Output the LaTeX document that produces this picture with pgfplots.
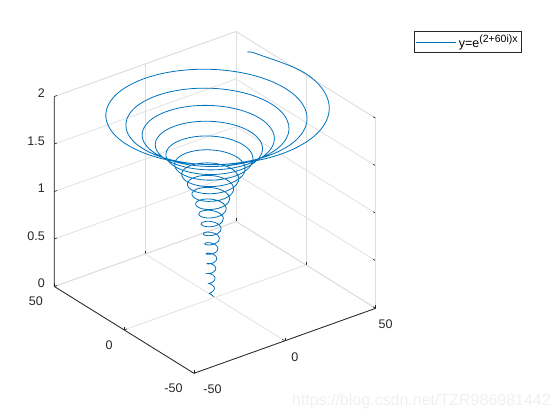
\documentclass[border=0pt]{standalone}
\usepackage{fontspec}
\setmainfont{Liberation Sans}
\usepackage{pgfplots}
\pgfplotsset{compat=1.18}
\definecolor{mblue}{HTML}{0072BD}
\definecolor{axdark}{HTML}{262626}
\definecolor{gridc}{HTML}{DEDEDE}
\begin{document}
\begin{tikzpicture}[x=1pt,y=1pt]
\useasboundingbox (0,0) rectangle (560,420);
\begin{axis}[
    at={(215pt,122.6pt)}, anchor=origin,
    x={(1.817pt,0.65pt)}, y={(-1.397pt,0.868pt)}, z={(0pt,95pt)},
    xmin=-50, xmax=50, ymin=-50, ymax=50, zmin=0, zmax=2,
    xtick={-50,0,50}, ytick={-50,0,50}, ztick={0,0.5,1,1.5,2},
    xticklabels={\hspace*{17pt}-50,0,50},
    yticklabels={-50,0,50},
    zticklabels={0,0.5,1,1.5,2},
    tick label style={font=\fontsize{12.5}{15}\selectfont, text=axdark},
    xticklabel style={anchor=center, xshift=10pt, yshift=-16pt},
    yticklabel style={anchor=east, xshift=-8pt, yshift=-15pt},
    zticklabel style={anchor=east, xshift=-6pt, yshift=3pt},
    grid=major, grid style={gridc, line width=0.7pt},
    axis line style={gridc, line width=0.7pt},
    tick style={axdark, line width=0.6pt},
    major tick length=3pt,
    tick pos=left,
    clip=false,
    legend style={at={(axis description cs:1.12,1)}, anchor=north west,
        draw=axdark, line width=0.6pt, font=\fontsize{12.5}{14}\selectfont,
        inner sep=1.5pt},
    legend image code/.code={\draw[#1] (0pt,0pt)--(40pt,0pt);},
]
\addplot3[mblue, line width=0.8pt, smooth, tension=0.63, xshift=-3.3pt] table[x=x,y=y,z=z] {
x y z
0.98 0 0
0.864 0.499 0.0087
0.507 0.879 0.0175
0 1.033 0.0262
-0.525 0.910 0.0349
-0.926 0.535 0.0436
-1.088 0 0.0524
-0.959 -0.554 0.0611
-0.563 -0.976 0.0698
0 -1.147 0.0785
0.583 -1.011 0.0873
1.028 -0.594 0.0960
1.208 0 0.1047
1.065 0.615 0.1134
0.626 1.084 0.1222
0 1.273 0.1309
-0.648 1.122 0.1396
-1.142 0.659 0.1484
-1.342 0 0.1571
-1.182 -0.683 0.1658
-0.695 -1.203 0.1745
0 -1.414 0.1833
0.719 -1.246 0.1920
1.268 -0.732 0.2007
1.49 0 0.2094
1.313 0.758 0.2182
0.771 1.336 0.2269
0 1.570 0.2356
-0.799 1.384 0.2443
-1.408 0.813 0.2531
-1.654 0 0.2618
-1.458 -0.842 0.2705
-0.857 -1.484 0.2793
0 -1.743 0.2880
0.887 -1.536 0.2967
1.563 -0.903 0.3054
1.837 0 0.3142
1.619 0.935 0.3229
0.951 1.647 0.3316
0 1.936 0.3403
-0.985 1.706 0.3491
-1.736 1.002 0.3578
-2.04 0 0.3665
-1.798 -1.038 0.3752
-1.056 -1.829 0.3840
0 -2.149 0.3927
1.094 -1.894 0.4014
1.928 -1.113 0.4102
2.265 0 0.4189
1.996 1.152 0.4276
1.173 2.031 0.4363
0 2.387 0.4451
-1.214 2.103 0.4538
-2.140 1.236 0.4625
-2.515 0 0.4712
-2.216 -1.280 0.4800
-1.302 -2.255 0.4887
0 -2.650 0.4974
1.348 -2.336 0.5061
2.377 -1.372 0.5149
2.792 0 0.5236
2.461 1.421 0.5323
1.446 2.504 0.5411
0 2.943 0.5498
-1.497 2.593 0.5585
-2.639 1.524 0.5672
-3.101 0 0.5760
-2.733 -1.578 0.5847
-1.606 -2.781 0.5934
0 -3.267 0.6021
1.663 -2.880 0.6109
2.930 -1.692 0.6196
3.443 0 0.6283
3.034 1.752 0.6370
1.783 3.087 0.6458
0 3.628 0.6545
-1.846 3.197 0.6632
-3.254 1.879 0.6720
-3.823 0 0.6807
-3.369 -1.945 0.6894
-1.980 -3.429 0.6981
0 -4.029 0.7069
2.050 -3.551 0.7156
3.613 -2.086 0.7243
4.245 0 0.7330
3.741 2.160 0.7418
2.198 3.807 0.7505
0 4.474 0.7592
-2.276 3.942 0.7679
-4.012 2.317 0.7767
-4.714 0 0.7854
-4.154 -2.399 0.7941
-2.441 -4.227 0.8029
0 -4.967 0.8116
2.528 -4.378 0.8203
4.455 -2.572 0.8290
5.234 0 0.8378
4.612 2.663 0.8465
2.710 4.694 0.8552
0 5.516 0.8639
-2.806 4.861 0.8727
-4.947 2.856 0.8814
-5.812 0 0.8901
-5.122 -2.958 0.8988
-3.009 -5.212 0.9076
0 -6.124 0.9163
3.116 -5.398 0.9250
5.492 -3.171 0.9338
6.453 0 0.9425
5.687 3.284 0.9512
3.342 5.787 0.9599
0 6.801 0.9687
-3.460 5.994 0.9774
-6.099 3.522 0.9861
-7.166 0 0.9948
-6.316 -3.647 1.0036
-3.710 -6.426 1.0123
0 -7.551 1.0210
3.843 -6.655 1.0297
6.772 -3.910 1.0385
7.956 0 1.0472
7.012 4.049 1.0559
4.120 7.136 1.0647
0 8.385 1.0734
-4.267 7.390 1.0821
-7.520 4.342 1.0908
-8.835 0 1.0996
-7.787 -4.496 1.1083
-4.575 -7.923 1.1170
0 -9.310 1.1257
4.738 -8.205 1.1345
8.350 -4.821 1.1432
9.809 0 1.1519
8.645 4.992 1.1606
5.080 8.799 1.1694
0 10.338 1.1781
-5.261 9.111 1.1868
-9.272 5.354 1.1956
-10.893 0 1.2043
-9.601 -5.544 1.2130
-5.640 -9.768 1.2217
0 -11.479 1.2305
5.841 -10.117 1.2392
10.295 -5.944 1.2479
12.09 0 1.2566
10.66 6.15 1.2654
6.26 10.85 1.2741
0 12.75 1.2828
-6.49 11.23 1.2915
-11.43 6.60 1.3003
-13.43 0 1.3090
-11.84 -6.84 1.3177
-6.95 -12.04 1.3265
0 -14.15 1.3352
7.20 -12.47 1.3439
12.69 -7.33 1.3526
14.91 0 1.3614
13.14 7.59 1.3701
7.72 13.38 1.3788
0 15.72 1.3875
-8.00 13.85 1.3963
-14.10 8.14 1.4050
-16.56 0 1.4137
-14.60 -8.43 1.4225
-8.57 -14.85 1.4312
0 -17.45 1.4399
8.88 -15.38 1.4486
15.65 -9.04 1.4574
18.39 0 1.4661
16.21 9.36 1.4748
9.52 16.49 1.4835
0 19.38 1.4923
-9.86 17.08 1.5010
-17.38 10.03 1.5097
-20.42 0 1.5184
-18.00 -10.39 1.5272
-10.57 -18.31 1.5359
0 -21.52 1.5446
10.95 -18.96 1.5533
19.30 -11.14 1.5621
22.67 0 1.5708
19.98 11.54 1.5795
11.74 20.33 1.5882
0 23.89 1.5970
-12.16 21.06 1.6057
-21.43 12.37 1.6144
-25.18 0 1.6232
-22.19 -12.81 1.6319
-13.03 -22.57 1.6406
0 -26.53 1.6493
13.50 -23.38 1.6581
23.79 -13.74 1.6668
27.95 0 1.6755
24.64 14.22 1.6842
14.47 25.07 1.6930
0 29.46 1.7017
-14.99 25.96 1.7104
-26.42 15.25 1.7191
-31.04 0 1.7279
-27.36 -15.80 1.7366
-16.07 -27.83 1.7453
0 -32.71 1.7540
16.64 -28.83 1.7628
29.34 -16.94 1.7715
34.46 0 1.7802
30.37 17.54 1.7889
17.85 30.91 1.7977
0 36.32 1.8064
-18.48 32.01 1.8151
-32.57 18.81 1.8239
-38.27 0 1.8326
-33.73 -19.48 1.8413
-19.81 -34.32 1.8500
0 -40.33 1.8588
20.52 -35.54 1.8675
36.17 -20.88 1.8762
42.49 0 1.8849
37.45 21.62 1.8937
22.00 38.11 1.9024
0 44.78 1.9111
-22.79 39.47 1.9199
-40.16 23.19 1.9286
-47.19 0 1.9373
-41.59 -24.01 1.9460
-24.43 -42.31 1.9548
0 -49.72 1.9635
25.30 -43.82 1.9722
44.60 -25.75 1.9809
52.39 0 1.9897
46.18 26.66 1.9984
43.56 31.07 2
};
\addlegendentry{y=e\raisebox{4.5pt}{\fontsize{10.5}{11}\selectfont (2+60i)x}}
\draw[axdark, line width=0.8pt] (axis cs:-50,50,2)--(axis cs:-50,50,0)--(axis cs:-50,-50,0)--(axis cs:50,-50,0);
\end{axis}
\node[anchor=east, text=black!6, font=\fontsize{16}{18}\selectfont, inner sep=0pt] at (551,18.5) {https://blog.csdn.net/TZR986981442};
\end{tikzpicture}
\end{document}
